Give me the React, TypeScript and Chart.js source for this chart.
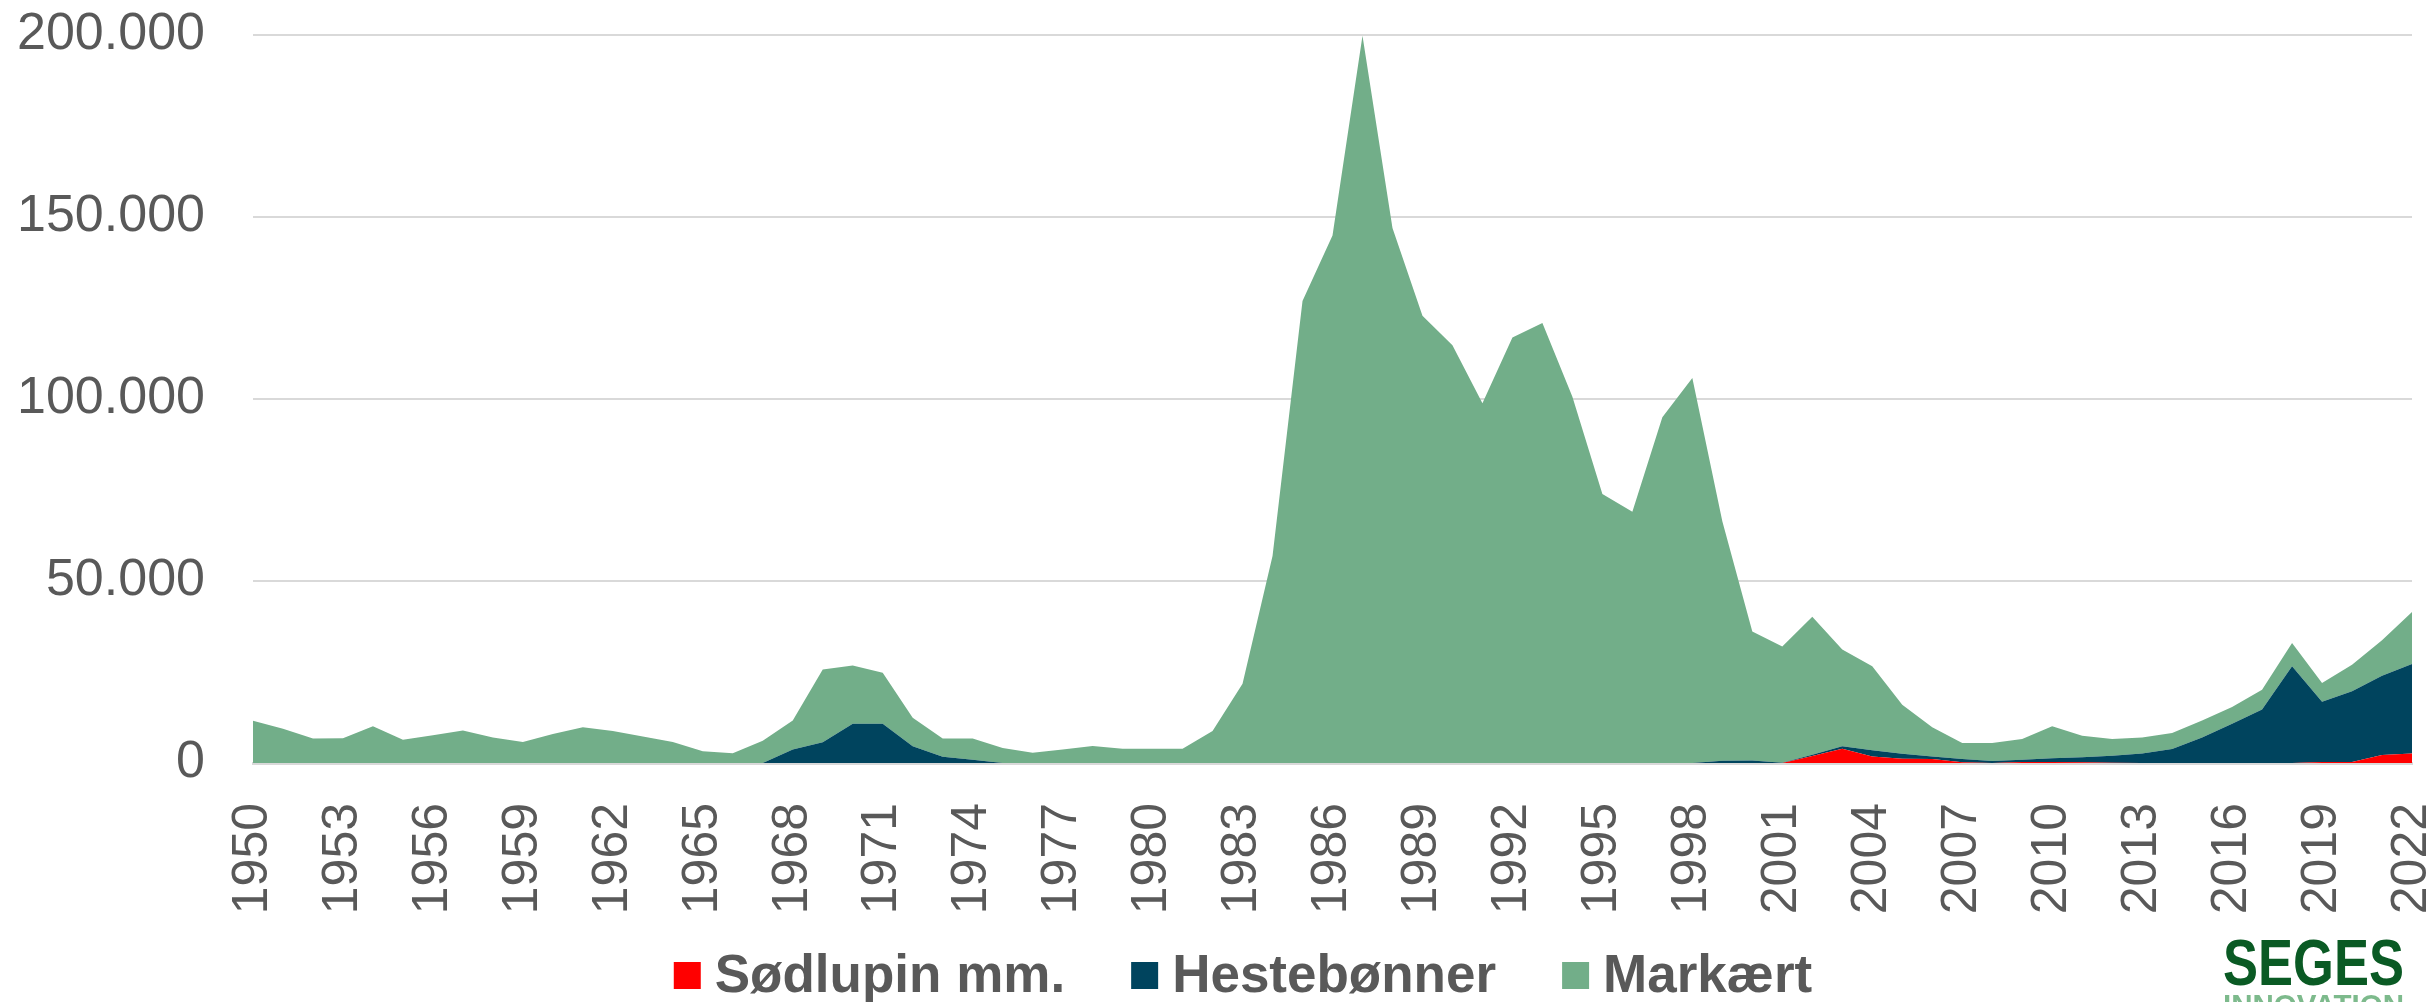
import React, { useEffect, useRef } from "react";
import { Chart, registerables } from "chart.js";

Chart.register(...registerables);

const YEARS: string[] = [
  "1950", "1951", "1952", "1953", "1954", "1955", "1956", "1957", "1958", "1959",
  "1960", "1961", "1962", "1963", "1964", "1965", "1966", "1967", "1968", "1969",
  "1970", "1971", "1972", "1973", "1974", "1975", "1976", "1977", "1978", "1979",
  "1980", "1981", "1982", "1983", "1984", "1985", "1986", "1987", "1988", "1989",
  "1990", "1991", "1992", "1993", "1994", "1995", "1996", "1997", "1998", "1999",
  "2000", "2001", "2002", "2003", "2004", "2005", "2006", "2007", "2008", "2009",
  "2010", "2011", "2012", "2013", "2014", "2015", "2016", "2017", "2018", "2019",
  "2020", "2021", "2022",
];

const SODLUPIN: number[] = [
  0, 0, 0, 0, 0, 0, 0, 0, 0, 0,
  0, 0, 0, 0, 0, 0, 0, 0, 0, 0,
  0, 0, 0, 0, 0, 0, 0, 0, 0, 0,
  0, 0, 0, 0, 0, 0, 0, 0, 0, 0,
  0, 0, 0, 0, 0, 0, 0, 0, 0, 0,
  0, 0, 1900, 3900, 1800, 1200, 1100, 200, 0, 300,
  300, 200, 100, 0, 0, 0, 0, 0, 0, 300,
  300, 2200, 2600,
];

const HESTEBONNER: number[] = [
  0, 0, 0, 0, 0, 0, 0, 0, 0, 0,
  0, 0, 0, 0, 0, 0, 0, 0, 3700, 5700,
  10800, 10800, 4600, 1700, 900, 0, 0, 0, 0, 0,
  0, 0, 0, 0, 0, 0, 0, 0, 0, 0,
  0, 0, 0, 0, 0, 0, 0, 0, 0, 600,
  700, 100, 400, 700, 1700, 1350, 700, 900, 550, 600,
  1000, 1400, 1900, 2600, 3850, 7000, 10800, 14700, 26600, 16500,
  19400, 21800, 24600,
];

const MARKAERT: number[] = [
  11600, 9400, 6700, 6800, 10100, 6400, 7600, 8900, 7000, 5800,
  8000, 9800, 8800, 7300, 5800, 3200, 2700, 6100, 8000, 20000,
  16000, 14000, 7800, 5000, 5800, 4100, 2800, 3700, 4700, 3900,
  3900, 3900, 8800, 21800, 56900, 126900, 144900, 199800, 147000, 122900,
  114800, 98800, 116900, 120900, 100600, 73900, 69000, 95000, 105800, 65800,
  35400, 31900, 37900, 26600, 23100, 13450, 8000, 4400, 4950, 5700,
  8800, 5900, 4600, 4400, 4400, 4700, 4600, 5400, 6400, 5200,
  7300, 9700, 14300,
];

const SERIES_LABELS = ["Sødlupin mm.", "Hestebønner", "Markært"];
const SERIES_COLORS = ["#FF0000", "#00445E", "#72AE89"];

const FONT = '"Liberation Sans", Arial, sans-serif';
const TEXT_COLOR = "#595959";

function fmt(v: number): string {
  return String(v).replace(/\B(?=(\d{3})+(?!\d))/g, ".");
}

const legendPlugin = {
  id: "customLegend",
  afterDraw(chart: any) {
    const ctx = chart.ctx;
    ctx.save();
    ctx.font = `bold 53px ${FONT}`;
    const items = chart.data.datasets.map((d: any) => ({
      label: d.label,
      color: d.backgroundColor,
      w: ctx.measureText(d.label).width,
    }));
    const box = 27;
    const gapText = 14;
    const gapItem = 66;
    const total =
      items.reduce((s: number, it: any) => s + box + gapText + it.w, 0) +
      gapItem * (items.length - 1);
    let x = chart.width / 2 + 25 - total / 2;
    const cy = 975.5;
    ctx.textBaseline = "alphabetic";
    ctx.textAlign = "left";
    for (const it of items) {
      ctx.fillStyle = it.color;
      ctx.fillRect(x, cy - box / 2, box, box);
      x += box + gapText;
      ctx.fillStyle = TEXT_COLOR;
      ctx.fillText(it.label, x, 992);
      x += it.w + gapItem;
    }
    ctx.restore();
  },
};

const logoPlugin = {
  id: "logo",
  afterDraw(chart: any) {
    const ctx = chart.ctx;
    ctx.save();
    ctx.textBaseline = "alphabetic";
    ctx.textAlign = "left";
    ctx.font = `bold 64px ${FONT}`;
    const w1 = ctx.measureText("SEGES").width;
    const left = chart.width - 213;
    const targetW = 181;
    ctx.translate(left, 985);
    ctx.scale(targetW / w1, 1);
    ctx.fillStyle = "#0A5A24";
    ctx.fillText("SEGES", 0, 0);
    ctx.restore();
    ctx.save();
    ctx.font = `bold 30px ${FONT}`;
    const w2 = ctx.measureText("INNOVATION").width;
    ctx.translate(left, 1015);
    ctx.scale(targetW / w2, 1);
    ctx.fillStyle = "#7DBA8C";
    ctx.fillText("INNOVATION", 0, 0);
    ctx.restore();
  },
};

export default function App() {
  const ref = useRef<HTMLCanvasElement | null>(null);

  useEffect(() => {
    if (!ref.current) return;
    Chart.defaults.font.family = FONT;
    const chart = new Chart(ref.current, {
      type: "line",
      data: {
        labels: YEARS,
        datasets: [
          {
            label: SERIES_LABELS[0],
            data: SODLUPIN,
            backgroundColor: SERIES_COLORS[0],
            borderColor: SERIES_COLORS[0],
            fill: "origin",
          },
          {
            label: SERIES_LABELS[1],
            data: HESTEBONNER,
            backgroundColor: SERIES_COLORS[1],
            borderColor: SERIES_COLORS[1],
            fill: "-1",
          },
          {
            label: SERIES_LABELS[2],
            data: MARKAERT,
            backgroundColor: SERIES_COLORS[2],
            borderColor: SERIES_COLORS[2],
            fill: "-1",
          },
        ],
      },
      options: {
        responsive: false,
        animation: false,
        elements: {
          point: { radius: 0, hoverRadius: 0 },
          line: { borderWidth: 0, tension: 0 },
        },
        layout: { padding: { top: 35, left: 0, right: 24, bottom: 0 } },
        plugins: {
          legend: { display: false },
          tooltip: { enabled: false },
        },
        scales: {
          x: {
            grid: { display: false, drawTicks: false },
            border: { display: true, color: "#D9D9D9", width: 3 },
            ticks: {
              autoSkip: false,
              maxRotation: 90,
              minRotation: 90,
              padding: 40,
              color: TEXT_COLOR,
              font: { family: FONT, size: 50 },
              callback: (_v: any, i: number) => (i % 3 === 0 ? YEARS[i] : ""),
            },
            afterFit: (s: any) => {
              s.height = 239;
              s.paddingLeft = 0;
              s.paddingRight = 0;
              s.paddingTop = 0;
              s.paddingBottom = 0;
            },
          },
          y: {
            stacked: true,
            min: 0,
            max: 200000,
            ticks: {
              stepSize: 50000,
              padding: 48,
              color: TEXT_COLOR,
              font: { family: FONT, size: 52 },
              callback: (v: any) => fmt(Number(v)),
            },
            grid: { color: "#D9D9D9", lineWidth: 2, drawTicks: false },
            border: { display: false },
            afterFit: (s: any) => {
              s.width = 253;
              s.paddingLeft = 0;
              s.paddingRight = 0;
              s.paddingTop = 0;
              s.paddingBottom = 0;
            },
          },
        },
      },
      plugins: [legendPlugin, logoPlugin],
    });
    return () => chart.destroy();
  }, []);

  return (
    <div style={{ position: "fixed", left: 0, top: 0, width: 2436, height: 1002, background: "#fff" }}>
      <canvas ref={ref} width={2436} height={1002} />
    </div>
  );
}
